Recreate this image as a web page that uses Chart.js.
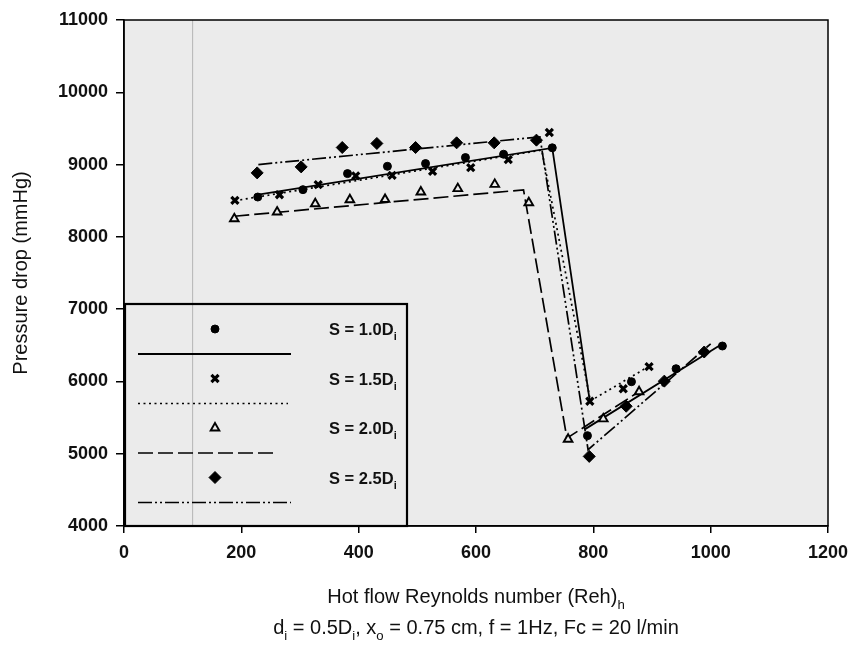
<!DOCTYPE html>
<html><head><meta charset="utf-8">
<script src="https://cdn.jsdelivr.net/npm/chart.js@4.4.1/dist/chart.umd.min.js"></script>
<style>html,body{margin:0;padding:0;background:#fff;}#wrap{width:853px;height:645px;}</style>
</head><body><div id="wrap"><canvas id="c" width="853" height="645"></canvas></div>
<script>
// ---- data ----
const seriesNames = ['S = 1.0D', 'S = 1.5D', 'S = 2.0D', 'S = 2.5D'];
const seriesSub = 'i';

// measured points
const s10X = [228, 305, 381, 449, 514, 582, 647, 730, 790, 865, 941, 1020];
const s10Y = [8551, 8653, 8875, 8976, 9014, 9097, 9143, 9232, 5250, 5996, 6176, 6490];
const s15X = [189, 265, 331, 395, 457, 526, 591, 655, 725, 794, 851, 895];
const s15Y = [8504, 8583, 8722, 8843, 8851, 8907, 8958, 9069, 9444, 5726, 5899, 6204];
const s20X = [188, 261, 326, 385, 445, 506, 569, 632, 690, 757, 817, 878];
const s20Y = [8250, 8343, 8458, 8514, 8518, 8621, 8667, 8726, 8472, 5200, 5482, 5857];
const s25X = [227, 302, 372, 431, 497, 567, 631, 703, 793, 856, 921, 989];
const s25Y = [8885, 8968, 9236, 9292, 9236, 9301, 9301, 9338, 4963, 5657, 6004, 6407];

// fitted trend lines (null = break in line)
const fit10X = [226, 730, 794, 794, 786, 1020];
const fit10Y = [8580, 9230, 5726, null, 5340, 6520];
const fit15X = [189, 712, 795, 897];
const fit15Y = [8500, 9200, 5730, 6220];
const fit20X = [188, 681, 755, 880];
const fit20Y = [8285, 8650, 5215, 5870];
const fit25X = [229, 709, 791, 1000];
const fit25Y = [9000, 9384, 5055, 6520];

// thin grey scan line in the original
const scanX = [117, 117];
const scanY = [4000, 11000];

const xTickValues = [0, 200, 400, 600, 800, 1000, 1200];
const yTickValues = [4000, 5000, 6000, 7000, 8000, 9000, 10000, 11000];

// ---- helpers ----
const zip = (xs, ys) => xs.map((x, i) => ({x: x, y: ys[i]}));
const FONT = '"Liberation Sans", Arial, Helvetica, sans-serif';

const styles = [
  {pointStyle: 'circle', radius: 4, bw: 1, fill: '#000', dash: [], lw: 1.8, legendLen: 153},
  {pointStyle: 'crossRot', radius: 5, bw: 3.2, fill: '#000', dash: [2, 3.5], lw: 1.7, legendLen: 150},
  {pointStyle: 'triangle', radius: 5, bw: 1.9, fill: '#ebebeb', dash: [15, 5], lw: 1.7, legendLen: 139},
  {pointStyle: 'rectRot', radius: 6, bw: 1, fill: '#000', dash: [14, 3, 2, 3, 2, 3], lw: 1.7, legendLen: 153}
];
const pts = [zip(s10X, s10Y), zip(s15X, s15Y), zip(s20X, s20Y), zip(s25X, s25Y)];
const fits = [zip(fit10X, fit10Y), zip(fit15X, fit15Y), zip(fit20X, fit20Y), zip(fit25X, fit25Y)];

const datasets = [];
datasets.push({
  type: 'line', data: zip(scanX, scanY), borderColor: '#b4b4b4', borderWidth: 1,
  pointRadius: 0, fill: false, order: 10
});
styles.forEach((s, i) => {
  datasets.push({
    type: 'line', label: seriesNames[i] + ' fit', data: fits[i], borderColor: '#000',
    borderWidth: s.lw, borderDash: s.dash, pointRadius: 0, fill: false, spanGaps: false,
    tension: 0, order: 5
  });
  datasets.push({
    type: 'scatter', label: seriesNames[i], data: pts[i], showLine: false,
    pointStyle: s.pointStyle, pointRadius: s.radius, pointBorderWidth: s.bw,
    pointBackgroundColor: s.fill, pointBorderColor: '#000', order: 1
  });
});

function drawRich(ctx, parts, x, y, align, size, weight) {
  const f = (sz) => `${weight} ${sz}px ${FONT}`;
  let w = 0;
  parts.forEach(p => { ctx.font = f(p.sub ? size * 0.66 : size); p.w = ctx.measureText(p.t).width; w += p.w; });
  let cx = align === 'center' ? x - w / 2 : (align === 'right' ? x - w : x);
  ctx.textAlign = 'left'; ctx.textBaseline = 'alphabetic';
  parts.forEach(p => {
    ctx.font = f(p.sub ? size * 0.66 : size);
    ctx.fillText(p.t, cx, p.sub ? y + size * 0.32 : y);
    cx += p.w;
  });
}

const decor = {
  id: 'decor',
  beforeDraw(chart) {
    const ctx = chart.ctx, a = chart.chartArea;
    ctx.save();
    ctx.fillStyle = '#ffffff';
    ctx.fillRect(0, 0, chart.width, chart.height);
    ctx.fillStyle = '#ebebeb';
    ctx.fillRect(a.left, a.top, a.right - a.left, a.bottom - a.top);
    ctx.restore();
  },
  afterDatasetsDraw(chart) {
    const ctx = chart.ctx, a = chart.chartArea;
    ctx.save();
    // plot frame
    ctx.strokeStyle = '#000'; ctx.lineWidth = 1.5; ctx.setLineDash([]);
    ctx.strokeRect(a.left, a.top, a.right - a.left, a.bottom - a.top);

    // legend box
    const bx = a.left + 1, by = 304, bw = 282, bh = a.bottom - 304;
    ctx.lineWidth = 2.2;
    ctx.strokeRect(bx, by, bw, bh);
    styles.forEach((s, i) => {
      const my = 329 + i * 49.5;
      const ly = 354 + i * 49.5;
      ctx.fillStyle = s.fill; ctx.strokeStyle = '#000'; ctx.lineWidth = s.bw;
      Chart.helpers.drawPoint(ctx, {pointStyle: s.pointStyle, radius: s.radius, borderWidth: s.bw, rotation: 0}, 215, my);
      ctx.beginPath();
      ctx.lineWidth = s.lw; ctx.setLineDash(s.dash);
      ctx.moveTo(138, ly); ctx.lineTo(138 + s.legendLen, ly); ctx.stroke();
      ctx.setLineDash([]);
      ctx.fillStyle = '#111';
      drawRich(ctx, [{t: seriesNames[i]}, {t: seriesSub, sub: true}], 329, my + 6, 'left', 16.5, 'bold');
    });

    // axis titles
    ctx.fillStyle = '#111';
    drawRich(ctx, [{t: 'Hot flow Reynolds number (Reh)'}, {t: 'h', sub: true}], 476, 603, 'center', 20, 'normal');
    drawRich(ctx, [
      {t: 'd'}, {t: 'i', sub: true}, {t: ' = 0.5D'}, {t: 'i', sub: true}, {t: ', x'}, {t: 'o', sub: true},
      {t: ' = 0.75 cm, f = 1Hz, Fc = 20 l/min'}
    ], 476, 634, 'center', 20, 'normal');
    ctx.save();
    ctx.translate(27, 273); ctx.rotate(-Math.PI / 2);
    ctx.font = `normal 20px ${FONT}`; ctx.textAlign = 'center'; ctx.textBaseline = 'alphabetic';
    ctx.fillText('Pressure drop (mmHg)', 0, 0);
    ctx.restore();
    ctx.restore();
  }
};

const tickFont = {family: FONT, size: 18, weight: 'bold'};
new Chart(document.getElementById('c'), {
  data: {datasets: datasets},
  options: {
    responsive: false, animation: false, devicePixelRatio: 1,
    layout: {padding: {top: 20, right: 25, left: 0, bottom: 0}},
    plugins: {legend: {display: false}, tooltip: {enabled: false}},
    scales: {
      x: {
        type: 'linear', min: 0, max: 1200,
        afterBuildTicks: (s) => { s.ticks = xTickValues.map(v => ({value: v})); },
        afterFit: (s) => { s.height = 119; s.paddingRight = 0; s.paddingLeft = 0; },
        ticks: {font: tickFont, color: '#111', padding: 9, maxRotation: 0, callback: (v) => String(v)},
        grid: {display: true, drawOnChartArea: false, drawTicks: true, tickLength: 7, color: '#000', lineWidth: 1.5},
        border: {display: true, color: '#000', width: 1.5}
      },
      y: {
        type: 'linear', min: 4000, max: 11000,
        afterBuildTicks: (s) => { s.ticks = yTickValues.map(v => ({value: v})); },
        afterFit: (s) => { s.width = 124; s.paddingTop = 0; s.paddingBottom = 0; },
        ticks: {font: tickFont, color: '#111', padding: 8, callback: (v) => String(v)},
        grid: {display: true, drawOnChartArea: false, drawTicks: true, tickLength: 8, color: '#000', lineWidth: 1.5},
        border: {display: true, color: '#000', width: 1.5}
      }
    }
  },
  plugins: [decor]
});
</script></body></html>
